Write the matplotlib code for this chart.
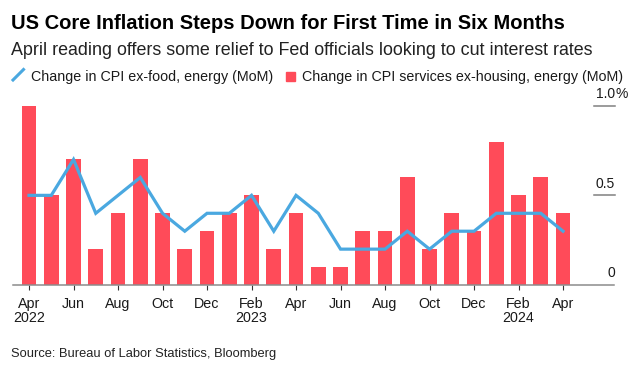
import matplotlib
matplotlib.use("Agg")
import matplotlib.pyplot as plt
import numpy as np
from matplotlib.lines import Line2D
from matplotlib.patches import Rectangle

plt.rcParams['font.family'] = ['Liberation Sans', 'DejaVu Sans']

months = ["Apr\n2022", "May", "Jun", "Jul", "Aug", "Sep", "Oct", "Nov", "Dec",
          "Jan", "Feb\n2023", "Mar", "Apr", "May", "Jun", "Jul", "Aug", "Sep",
          "Oct", "Nov", "Dec", "Jan", "Feb\n2024", "Mar", "Apr"]
services_ex_housing = [1.0, 0.5, 0.7, 0.2, 0.4, 0.7, 0.4, 0.2, 0.3, 0.4, 0.5, 0.2, 0.4,
                       0.1, 0.1, 0.3, 0.3, 0.6, 0.2, 0.4, 0.3, 0.8, 0.5, 0.6, 0.4]
core_cpi = [0.5, 0.5, 0.7, 0.4, 0.5, 0.6, 0.4, 0.3, 0.4, 0.4, 0.5, 0.3, 0.5,
            0.4, 0.2, 0.2, 0.2, 0.3, 0.2, 0.3, 0.3, 0.4, 0.4, 0.4, 0.3]
y_ticks = [0, 0.5, 1.0]
y_labels = ["0", "0.5", "1.0"]

RED = "#ff4b59"
BLUE = "#4aa8e0"

W, H = 642, 375
fig = plt.figure(figsize=(W / 100, H / 100), dpi=100)

# axes box in pixels: x 13..614, y 106..285
ax = fig.add_axes([13 / W, 1 - 285 / H, 601 / W, (285 - 105.7) / H])
x = np.arange(len(months))
ax.bar(x, services_ex_housing, width=0.67, color=RED, zorder=1)
ax.plot(x, core_cpi, color=BLUE, lw=2.3, solid_joinstyle="miter", zorder=3, clip_on=False)

ax.set_xlim(-0.72, 26.29)
ax.set_ylim(0, 1.0)

for s in ["top", "left", "right"]:
    ax.spines[s].set_visible(False)
ax.spines["bottom"].set_color("#8c8c8c")
ax.spines["bottom"].set_linewidth(1.1)
ax.spines["bottom"].set_zorder(4)

ax.set_xticks(x[::2])
ax.set_xticklabels([m for m in months[::2]], fontsize=10.3, color="#1a1a1a", linespacing=1.05)
ax.tick_params(axis="x", length=3.8, width=0.8, color="#333333", pad=4.5)
ax.set_yticks([])

# right-side labels with short rules
ytr = ax.get_yaxis_transform()
for v, lab in zip(y_ticks, y_labels):
    if v > 0:
        ax.plot([0.967, 1.0017], [v, v], transform=ytr, color="#808080", lw=1.1, clip_on=False)
    ax.annotate(lab, xy=(1.0017, v), xycoords=ytr, xytext=(0, 5.5), textcoords="offset points",
                ha="right", va="baseline", fontsize=10, color="#1a1a1a")
    if v == 1.0:
        ax.annotate("%", xy=(1.0017, v), xycoords=ytr, xytext=(0, 5.5), textcoords="offset points",
                    ha="left", va="baseline", fontsize=10, color="#1a1a1a")

fig.text(11.5 / W, 1 - 29.3 / H, "US Core Inflation Steps Down for First Time in Six Months",
         fontsize=14.5, fontweight="bold", color="#000000", va="baseline")
fig.text(11.5 / W, 1 - 55 / H,
         "April reading offers some relief to Fed officials looking to cut interest rates",
         fontsize=12.9, color="#222222", va="baseline")

# legend
fig.add_artist(Line2D([13 / W, 23.5 / W], [1 - 80 / H, 1 - 69.5 / H], color=BLUE, lw=2.2))
fig.text(30.7 / W, 1 - 81 / H, "Change in CPI ex-food, energy (MoM)",
         fontsize=10.3, color="#1a1a1a", va="baseline")
fig.add_artist(Rectangle((286 / W, 1 - 80.5 / H), 9 / W, 9 / H, color=RED, transform=fig.transFigure))
fig.text(301.7 / W, 1 - 81 / H, "Change in CPI services ex-housing, energy (MoM)",
         fontsize=10.3, color="#1a1a1a", va="baseline")

fig.text(11 / W, 1 - 357.3 / H, "Source: Bureau of Labor Statistics, Bloomberg",
         fontsize=9.3, color="#222222", va="baseline")

fig.savefig("out.png", dpi=100)
